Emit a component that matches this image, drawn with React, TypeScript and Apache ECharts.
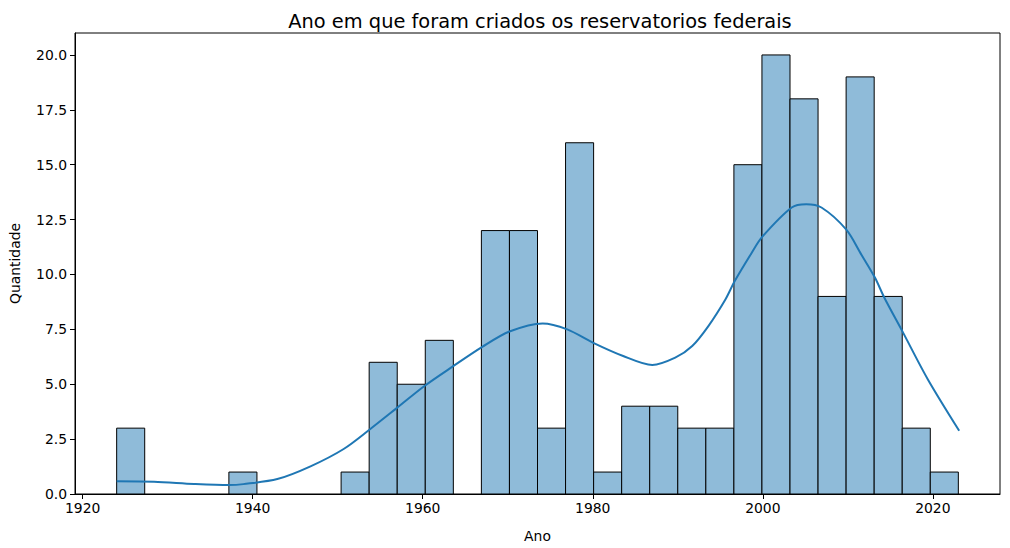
import React, { useEffect, useRef } from "react";
import * as echarts from "echarts";

const binStart = 1924;
const binEnd = 2023;
const counts = [3, 0, 0, 0, 1, 0, 0, 0, 1, 6, 5, 7, 0, 12, 12, 3, 16, 1, 4, 4, 3, 3, 15, 20, 18, 9, 19, 9, 3, 1];

const kdeYears = [1924.0, 1928.4, 1933.1, 1937.2, 1938.9, 1942.9, 1946.8, 1950.7, 1953.8, 1956.9, 1960.2, 1963.5, 1967.0, 1970.2, 1974.1, 1977.0, 1980.0, 1983.5, 1987.0, 1989.7, 1991.7, 1993.6, 1995.6, 1996.7, 1998.7, 1999.9, 2003.4, 2005.1, 2006.9, 2009.8, 2011.6, 2013.2, 2014.3, 2016.5, 2019.4, 2023.1];
const kdeValues = [0.58, 0.56, 0.46, 0.41, 0.45, 0.68, 1.26, 2.05, 2.95, 3.9, 4.92, 5.8, 6.7, 7.4, 7.77, 7.5, 6.9, 6.3, 5.88, 6.21, 6.74, 7.65, 8.86, 9.7, 10.99, 11.7, 13.05, 13.2, 13.05, 12.05, 10.9, 9.85, 8.94, 7.35, 5.23, 2.88];

const xTicks = [1920, 1940, 1960, 1980, 2000, 2020];
const yTicks = [0, 2.5, 5, 7.5, 10, 12.5, 15, 17.5, 20];

const FONT = "DejaVu Sans";

export default function App() {
  const ref = useRef<HTMLDivElement>(null);
  useEffect(() => {
    if (!ref.current) return;
    const chart = echarts.init(ref.current, null, { renderer: "svg" });
    const w = (binEnd - binStart) / counts.length;
    const bars = counts.map((c, i) => [binStart + i * w, binStart + (i + 1) * w, c]);
    const kde = kdeYears.map((x, i) => [x, kdeValues[i]]);
    chart.setOption({
      animation: false,
      backgroundColor: "#fff",
      title: {
        text: "Ano em que foram criados os reservatorios federais",
        left: 535,
        top: 7,
        textAlign: "center",
        textStyle: { fontFamily: FONT, fontSize: 19.4, fontWeight: "normal", color: "#000" },
      },
      grid: {
        left: 70,
        right: 10,
        top: 33,
        bottom: 53,
        show: true,
        borderColor: "#000",
        borderWidth: 1,
        containLabel: false,
      },
      xAxis: {
        type: "value",
        min: 1919.1,
        max: 2027.9,
        name: "Ano",
        nameLocation: "middle",
        nameGap: 35,
        nameTextStyle: { fontFamily: FONT, fontSize: 13.9, color: "#000" },
        splitLine: { show: false },
        axisLine: { show: true, onZero: false, lineStyle: { color: "#000", width: 1 } },
        axisTick: { show: true, length: 5, lineStyle: { color: "#000" }, customValues: xTicks },
        axisLabel: {
          fontFamily: FONT,
          fontSize: 13.9,
          color: "#000",
          margin: 7,
          customValues: xTicks,
          formatter: (v: number) => String(v),
        },
      },
      yAxis: {
        type: "value",
        min: 0,
        max: 21,
        name: "Quantidade",
        nameLocation: "middle",
        nameGap: 53,
        nameTextStyle: { fontFamily: FONT, fontSize: 13.9, color: "#000" },
        splitLine: { show: false },
        axisLine: { show: true, lineStyle: { color: "#000", width: 1 } },
        axisTick: { show: true, length: 5, lineStyle: { color: "#000" }, customValues: yTicks },
        axisLabel: {
          fontFamily: FONT,
          fontSize: 13.9,
          color: "#000",
          margin: 8,
          customValues: yTicks,
          formatter: (v: number) => v.toFixed(1),
        },
      },
      series: [
        {
          type: "custom",
          data: bars,
          encode: { x: [0, 1], y: 2 },
          renderItem: (params: any, api: any) => {
            const x0 = api.value(0);
            const x1 = api.value(1);
            const c = api.value(2);
            if (!c) return null;
            const p0 = api.coord([x0, c]);
            const p1 = api.coord([x1, 0]);
            return {
              type: "rect",
              shape: { x: p0[0], y: p0[1], width: p1[0] - p0[0], height: p1[1] - p0[1] },
              style: { fill: "#8fbbd9", stroke: "#000", lineWidth: 1 },
            };
          },
          z: 2,
        },
        {
          type: "line",
          data: kde,
          smooth: 0.3,
          showSymbol: false,
          symbol: "none",
          lineStyle: { color: "#1f77b4", width: 2 },
          z: 3,
        },
      ],
    });
    return () => chart.dispose();
  }, []);
  return <div ref={ref} style={{ width: 1010, height: 548, position: "absolute", left: 0, top: 0 }} />;
}
